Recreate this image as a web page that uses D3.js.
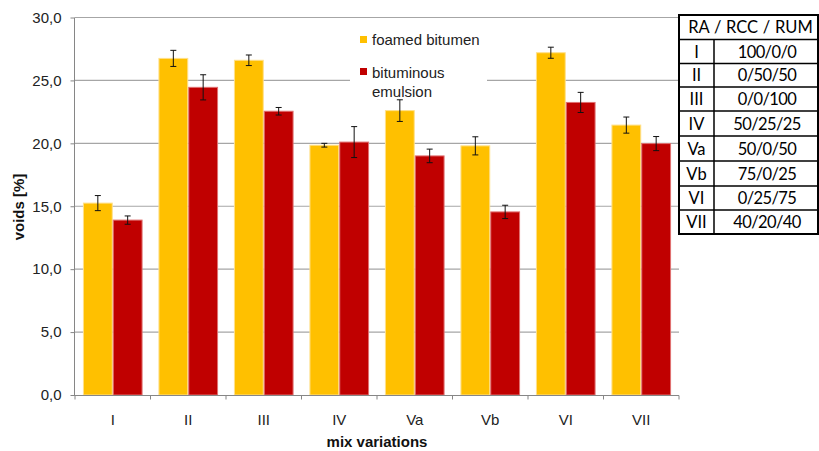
<!DOCTYPE html>
<html><head><meta charset="utf-8">
<script src="https://cdn.jsdelivr.net/npm/d3@7"></script>
<style>body{margin:0;background:#fff}svg{display:block}</style>
</head><body>
<svg id="chart" width="819" height="451"></svg>
<script>
const categories = ["I","II","III","IV","Va","Vb","VI","VII"];
const seriesNames = ["foamed bitumen","bituminous emulsion"];
const foamed = [15.25, 26.75, 26.6, 19.85, 22.6, 19.8, 27.2, 21.45];
const foamedErr = [0.6, 0.64, 0.42, 0.15, 0.86, 0.72, 0.44, 0.64];
const emulsion = [13.9, 24.45, 22.55, 20.1, 19.0, 14.55, 23.25, 19.98];
const emulsionErr = [0.33, 1.0, 0.3, 1.23, 0.54, 0.53, 0.8, 0.56];
const yTicks = [0,5,10,15,20,25,30];
const tableHeader = "RA / RCC / RUM";
const tableMix = ["100/0/0","0/50/50","0/0/100","50/25/25","50/0/50","75/0/25","0/25/75","40/20/40"];

const colors = ["#FFC000","#C00000"];
const strokes = ["#FFE08A","#E07070"];
const svg = d3.select("#chart");
const font = "Arial, 'Liberation Sans', sans-serif";
const tfont = "Lato, 'Open Sans', sans-serif";

const x0 = d3.scaleBand().domain(categories).range([75,679]).paddingInner(0.21).paddingOuter(0.105);
const x1 = d3.scaleBand().domain([0,1]).range([0,x0.bandwidth()]);
const xb = d3.scaleBand().domain(categories).range([75,679]);
const y = d3.scaleLinear().domain([0,30]).range([395,17.5]);

// gridlines
svg.append("g").selectAll("line").data(yTicks.filter(d=>d>0)).join("line")
  .attr("x1",75).attr("x2",679).attr("y1",d=>y(d)).attr("y2",d=>y(d))
  .attr("stroke","#A6A6A6").attr("stroke-width",1.2);

// y axis
const yAxis = svg.append("g").attr("transform","translate(74.5,0)")
  .call(d3.axisLeft(y).tickValues(yTicks).tickSize(4).tickPadding(9)
    .tickFormat(d=>d3.format(".1f")(d).replace(".",",")));
yAxis.select(".domain").attr("stroke","#868686").attr("d","M0,17.5V395.5");
yAxis.selectAll(".tick line").attr("stroke","#868686");
yAxis.selectAll("text").attr("font-family",font).attr("font-size",15).attr("fill","#222");

// legend background
svg.append("rect").attr("x",350).attr("y",26).attr("width",137).attr("height",76).attr("fill","#fff");

// bars
const data = categories.map((c,i)=>({c, vals:[foamed[i],emulsion[i]], errs:[foamedErr[i],emulsionErr[i]]}));
const groups = svg.append("g").selectAll("g").data(data).join("g")
  .attr("transform",d=>`translate(${x0(d.c)},0)`);
groups.selectAll("rect").data(d=>d.vals.map((v,k)=>({v,k}))).join("rect")
  .attr("x",d=>x1(d.k)+0.5).attr("width",x1.bandwidth()-1)
  .attr("y",d=>y(d.v)).attr("height",d=>y(0)-y(d.v))
  .attr("fill",d=>colors[d.k]).attr("stroke",d=>strokes[d.k]).attr("stroke-width",1);
// error bars
const eb = groups.selectAll("g.err").data(d=>d.vals.map((v,k)=>({v,k,e:d.errs[k]}))).join("g").attr("class","err")
  .attr("transform",d=>`translate(${x1(d.k)+x1.bandwidth()/2},0)`);
eb.append("line").attr("y1",d=>y(d.v+d.e)).attr("y2",d=>y(d.v-d.e)).attr("stroke","#111").attr("stroke-width",1);
eb.append("line").attr("x1",-3).attr("x2",3).attr("y1",d=>y(d.v+d.e)).attr("y2",d=>y(d.v+d.e)).attr("stroke","#111");
eb.append("line").attr("x1",-3).attr("x2",3).attr("y1",d=>y(d.v-d.e)).attr("y2",d=>y(d.v-d.e)).attr("stroke","#111");

// x axis
const xAxisG = svg.append("g").attr("transform","translate(0,395.5)");
xAxisG.append("line").attr("x1",74).attr("x2",679).attr("stroke","#868686").attr("stroke-width",1.2);
xAxisG.selectAll("line.tk").data(categories.concat(["end"])).join("line").attr("class","tk")
  .attr("x1",(d,i)=>i<categories.length?xb(d):679).attr("x2",(d,i)=>i<categories.length?xb(d):679)
  .attr("y1",0).attr("y2",4).attr("stroke","#868686");
xAxisG.selectAll("text").data(categories).join("text")
  .attr("x",d=>xb(d)+xb.bandwidth()/2).attr("y",29.5).attr("text-anchor","middle")
  .attr("font-family",font).attr("font-size",15).attr("fill","#222").text(d=>d);

// axis titles
svg.append("text").attr("x",377).attr("y",447).attr("text-anchor","middle")
  .attr("font-family",font).attr("font-size",15).attr("font-weight","bold").attr("fill","#111").text("mix variations");
svg.append("text").attr("transform","translate(24,207) rotate(-90)").attr("text-anchor","middle")
  .attr("font-family",font).attr("font-size",15).attr("font-weight","bold").attr("fill","#111").text("voids [%]");

// legend
const lg = svg.append("g");
lg.append("rect").attr("x",360).attr("y",36).attr("width",7).attr("height",7).attr("fill",colors[0]);
lg.append("text").attr("x",372).attr("y",45).attr("font-family",font).attr("font-size",15).attr("fill","#222").text(seriesNames[0]);
lg.append("rect").attr("x",360).attr("y",68).attr("width",7).attr("height",7).attr("fill",colors[1]);
const t2 = lg.append("text").attr("x",372).attr("y",78).attr("font-family",font).attr("font-size",15).attr("fill","#222");
t2.append("tspan").attr("x",372).text("bituminous");
t2.append("tspan").attr("x",372).attr("dy",19).text("emulsion");

// table
const tb = svg.append("g");
const tx0 = 679, tx1 = 714, tx2 = 818;
const rowY = [15,39.5,63.5,87,111,136,161,186,210,234];
tb.append("rect").attr("x",tx0).attr("y",rowY[0]).attr("width",tx2-tx0).attr("height",rowY[rowY.length-1]-rowY[0])
  .attr("fill","#fff").attr("stroke","#000").attr("stroke-width",2);
tb.selectAll("line.r").data(rowY.slice(1,-1)).join("line").attr("class","r")
  .attr("x1",tx0).attr("x2",tx2).attr("y1",d=>d).attr("y2",d=>d).attr("stroke","#000").attr("stroke-width",1.5);
tb.append("line").attr("x1",tx1).attr("x2",tx1).attr("y1",rowY[1]).attr("y2",rowY[rowY.length-1]).attr("stroke","#000").attr("stroke-width",1.5);
tb.append("text").attr("x",(tx0+tx2)/2+2).attr("y",(rowY[0]+rowY[1])/2+6).attr("text-anchor","middle")
  .attr("font-family",tfont).attr("font-size",16.5).attr("word-spacing",0.5).attr("fill","#000").text(tableHeader);
categories.forEach((c,i)=>{
  const cy = (rowY[i+1]+rowY[i+2])/2+6;
  tb.append("text").attr("x",(tx0+tx1)/2).attr("y",cy).attr("text-anchor","middle")
    .attr("font-family",tfont).attr("font-size",16.5).attr("fill","#000").text(c);
  tb.append("text").attr("x",(tx1+tx2)/2+1).attr("y",cy).attr("text-anchor","middle")
    .attr("font-family",tfont).attr("font-size",16.5).attr("letter-spacing",-0.6).attr("fill","#000").text(tableMix[i]);
});
</script>
</body></html>
